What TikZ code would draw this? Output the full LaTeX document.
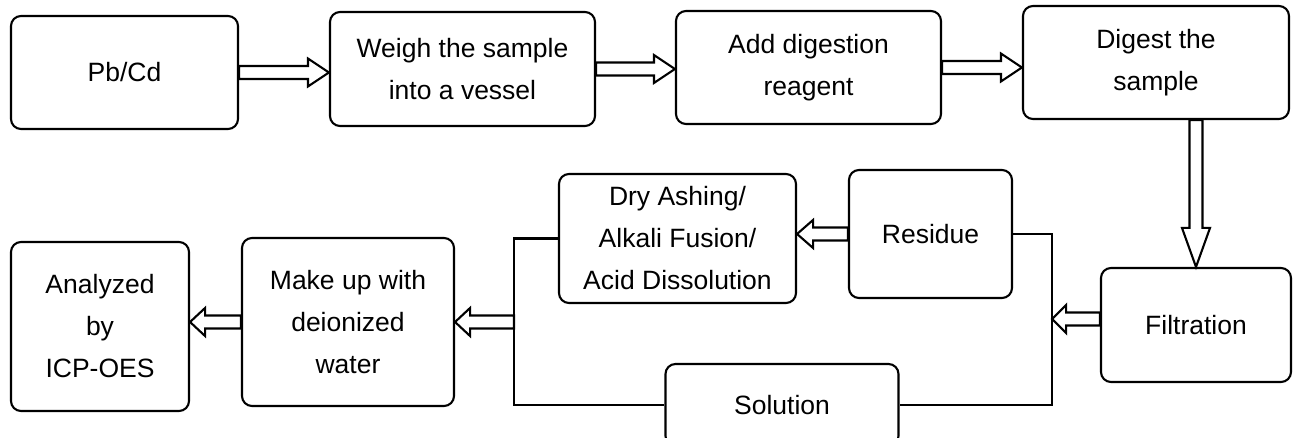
\documentclass[tikz,border=0pt]{standalone}
\usepackage{fontspec}
\setmainfont{Liberation Sans}
\usetikzlibrary{calc}

% hollow block arrow between two points, optional head length
\newcommand{\blockarrow}[3][21]{%
  \draw[hollowarrow] let \p1=(#2), \p2=(#3),
    \n1={atan2(\y2-\y1,\x2-\x1)}, \n2={veclen(\x2-\x1,\y2-\y1)} in
    [shift={(\p1)}, rotate=\n1]
    (0pt,-6.5pt) -- ({\n2*1pt-#1pt},-6.5pt) -- ({\n2*1pt-#1pt},-14pt) -- ({\n2*1pt},0pt)
    -- ({\n2*1pt-#1pt},14pt) -- ({\n2*1pt-#1pt},6.5pt) -- (0pt,6.5pt) -- cycle;}

\begin{document}
\begin{tikzpicture}[
  x=1pt, y=-1pt,
  procbox/.style={rectangle, rounded corners=10pt, draw, line width=2.1pt, align=center, inner sep=0pt, font=\fontsize{26.5}{42}\selectfont},
  hollowarrow/.style={line width=2.1pt, line join=miter},
  wire/.style={line width=2.1pt}
]
  \useasboundingbox (0,0) rectangle (1296,438);
  \clip (0,0) rectangle (1296,438);

  % Top row
  \node[procbox, minimum width=227pt, minimum height=113pt] (pbcd) at (124.5,72.5) {Pb/Cd};
  \node[procbox, minimum width=265pt, minimum height=114pt] (weigh) at (462.5,69) {Weigh the sample\\into a vessel};
  \node[procbox, minimum width=265pt, minimum height=113pt] (reagent) at (808.5,67.5) {Add digestion\\reagent};
  \node[procbox, minimum width=266pt, minimum height=113pt] (digest) at (1156,62.5) {Digest the\\sample};

  % Middle and bottom
  \node[procbox, minimum width=190pt, minimum height=114pt] (filtration) at (1196,325) {Filtration};
  \node[procbox, minimum width=163pt, minimum height=128pt] (residue) at (930.5,234) {Residue};
  \node[procbox, minimum width=237pt, minimum height=129pt] (ashing) at (677.5,238.5) {Dry Ashing/\\Alkali Fusion/\\Acid Dissolution};
  \node[procbox, minimum width=233pt, minimum height=82pt] (solution) at (782,405) {Solution};
  \node[procbox, minimum width=212pt, minimum height=168pt] (makeup) at (348,322) {Make up with\\deionized\\water};
  \node[procbox, minimum width=178pt, minimum height=169pt] (icp) at (100,326.5) {Analyzed\\by\\ICP-OES};

  % Split lines
  \coordinate (splitR) at ($(residue.east)+(39,0)$);
  \coordinate (splitL) at ($(ashing.west)+(-44,0)$);
  \coordinate (filtout) at ($(filtration.west)+(0,-6)$);
  \draw[wire] (residue.east) -- (splitR) |- (solution.east);
  \draw[wire] (ashing.west) -- (splitL) |- (solution.west);

  % Arrows
  \blockarrow{pbcd.east}{weigh.west |- pbcd.east}
  \blockarrow{weigh.east}{reagent.west |- weigh.east}
  \blockarrow{reagent.east}{digest.west |- reagent.east}
  \blockarrow[39]{digest.south -| filtration.north}{filtration.north}
  \blockarrow[14]{filtout}{splitR |- filtout}
  \blockarrow[16]{residue.west}{ashing.east |- residue.west}
  \blockarrow[15]{splitL |- makeup.east}{makeup.east}
  \blockarrow[15]{makeup.west}{icp.east |- makeup.west}
\end{tikzpicture}
\end{document}
